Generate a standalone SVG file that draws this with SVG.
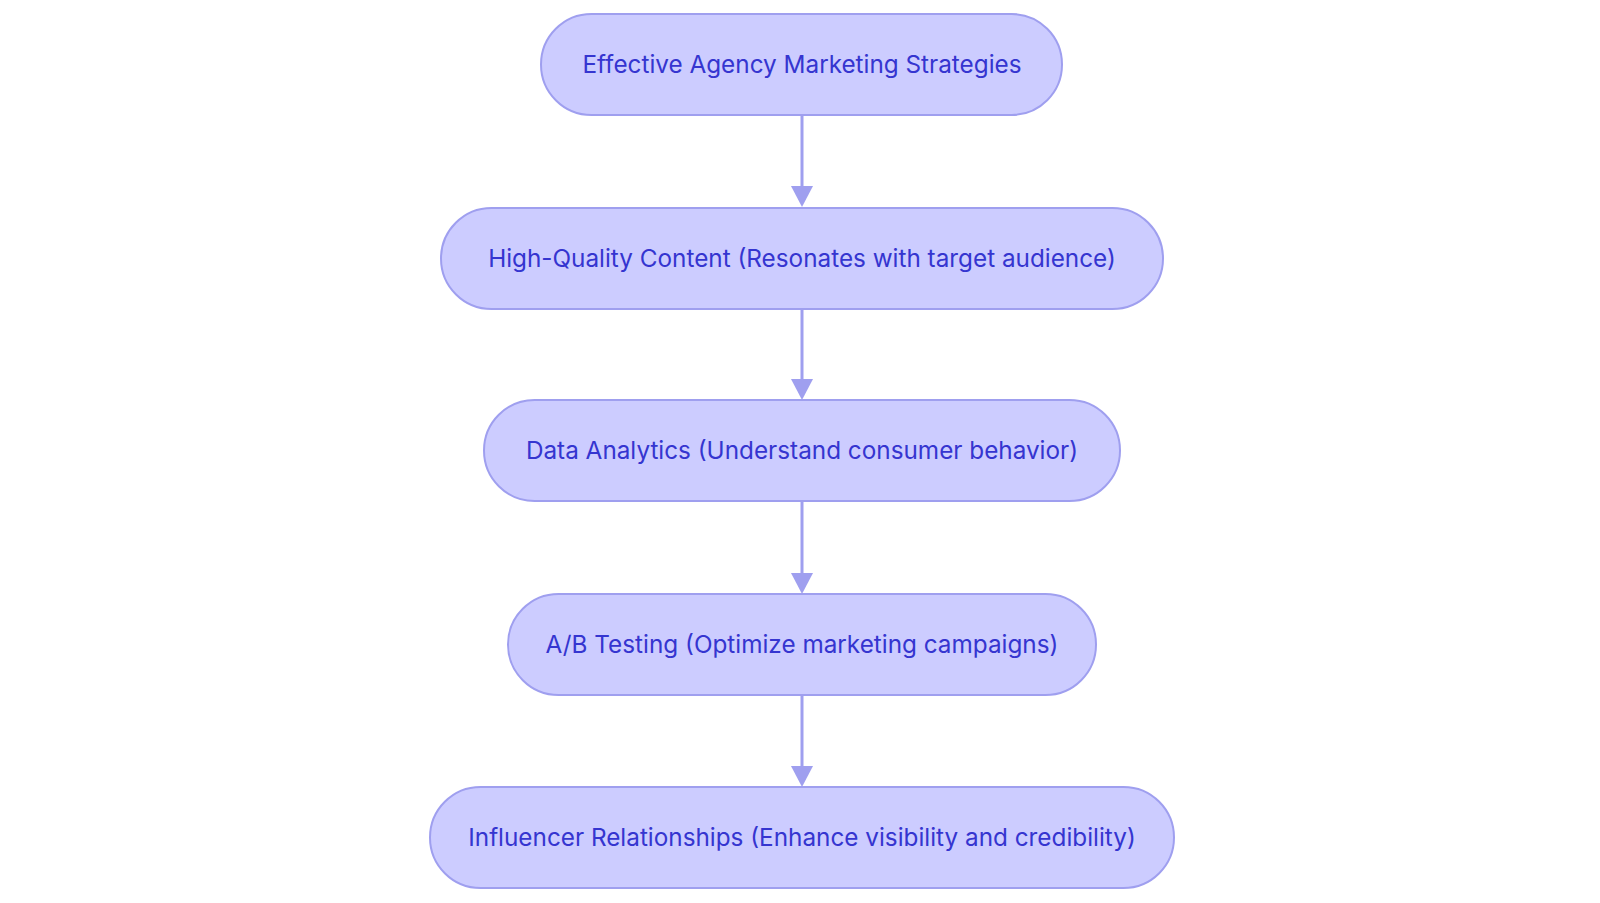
<svg xmlns="http://www.w3.org/2000/svg" width="1600" height="903" viewBox="0 0 1600 903">
<style>
.n rect{fill:#ccccff;stroke:#9f9fef;stroke-width:2}
.n text{font-family:Inter,"Noto Sans",sans-serif;font-size:24.3px;fill:#3535d0;text-anchor:middle;dominant-baseline:central}
.c line{stroke:#9f9fef;stroke-width:3}
.c path{fill:#9f9fef}
</style>
<rect width="1600" height="903" fill="#fff"/>
<g class="c">
<line x1="802" y1="115" x2="802" y2="190"/><path d="M791,186L813,186L802,207z"/>
<line x1="802" y1="309" x2="802" y2="383"/><path d="M791,379L813,379L802,400z"/>
<line x1="802" y1="501" x2="802" y2="577"/><path d="M791,573L813,573L802,594z"/>
<line x1="802" y1="695" x2="802" y2="770"/><path d="M791,766L813,766L802,787z"/>
</g>
<g class="n" id="n1"><rect x="541" y="14" width="521" height="101" rx="50.5"/><text x="802" y="64">Effective Agency Marketing Strategies</text></g>
<g class="n" id="n2"><rect x="441" y="208" width="722" height="101" rx="50.5"/><text x="802" y="258">High-Quality Content (Resonates with target audience)</text></g>
<g class="n" id="n3"><rect x="484" y="400" width="636" height="101" rx="50.5"/><text x="802" y="450">Data Analytics (Understand consumer behavior)</text></g>
<g class="n" id="n4"><rect x="508" y="594" width="588" height="101" rx="50.5"/><text x="802" y="644">A/B Testing (Optimize marketing campaigns)</text></g>
<g class="n" id="n5"><rect x="430" y="787" width="744" height="101" rx="50.5"/><text x="802" y="837">Influencer Relationships (Enhance visibility and credibility)</text></g>
</svg>
